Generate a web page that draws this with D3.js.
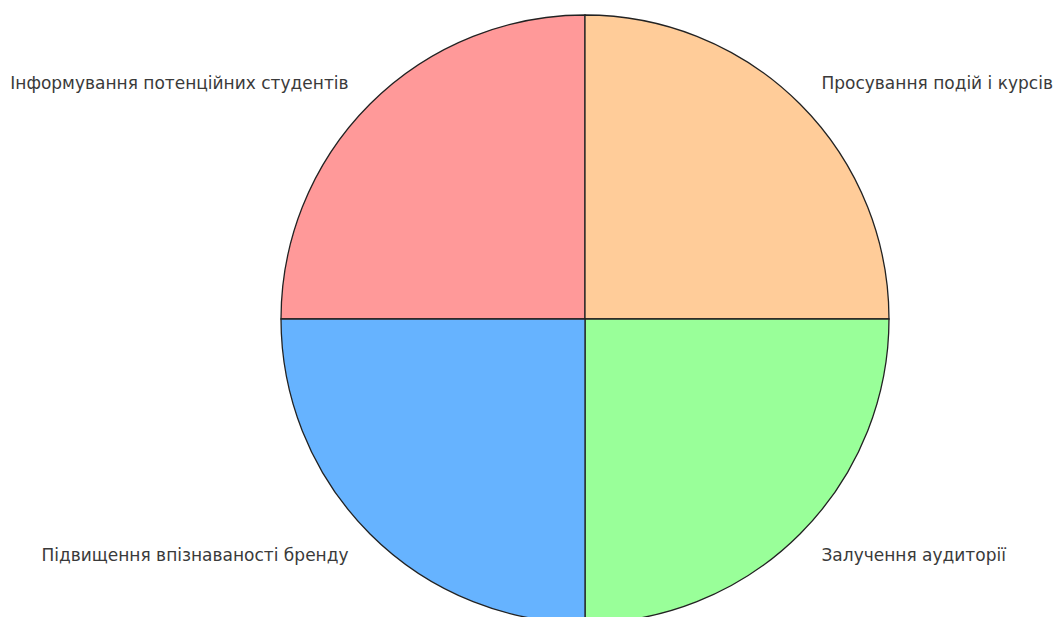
<!DOCTYPE html>
<html>
<head>
<meta charset="utf-8">
<script src="https://cdn.jsdelivr.net/npm/d3@7"></script>
<style>
  html, body { margin: 0; padding: 0; background: #fff; }
  svg { display: block; }
</style>
</head>
<body>
<svg id="chart" width="1057" height="617"></svg>
<script>
// Social media goals, equal shares
const categories = [
  "Інформування потенційних студентів",
  "Просування подій і курсів",
  "Залучення аудиторії",
  "Підвищення впізнаваності бренду"
];
const values = [25, 25, 25, 25];
const colors = ["#ff9999", "#ffcc99", "#99ff99", "#66b3ff"];

const width = 1057, height = 617;
const cx = 585, cy = 319, radius = 304;

const svg = d3.select("#chart");
const g = svg.append("g").attr("transform", `translate(${cx},${cy})`);

// Slices run clockwise starting from the left horizontal (-90deg in d3 terms)
const pie = d3.pie()
  .value(d => d.value)
  .sort(null)
  .startAngle(-Math.PI / 2)
  .endAngle(3 * Math.PI / 2);

const data = categories.map((c, i) => ({ label: c, value: values[i], color: colors[i] }));
const arcs = pie(data);

const arc = d3.arc().innerRadius(0).outerRadius(radius);

g.selectAll("path.slice")
  .data(arcs)
  .join("path")
  .attr("class", "slice")
  .attr("d", arc)
  .attr("fill", d => d.data.color)
  .attr("stroke", "#222")
  .attr("stroke-width", 1.3);

// Labels placed outside the pie at 1.1 x radius
const labelR = radius * 1.1;
g.selectAll("text.label")
  .data(arcs)
  .join("text")
  .attr("class", "label")
  .attr("x", d => Math.sin((d.startAngle + d.endAngle) / 2) * labelR)
  .attr("y", d => -Math.cos((d.startAngle + d.endAngle) / 2) * labelR)
  .attr("text-anchor", d => Math.sin((d.startAngle + d.endAngle) / 2) < 0 ? "end" : "start")
  .attr("dominant-baseline", "central")
  .attr("font-family", "DejaVu Sans, sans-serif")
  .attr("font-size", 17)
  .attr("fill", "#3a3a3a")
  .text(d => d.data.label);
</script>
</body>
</html>
